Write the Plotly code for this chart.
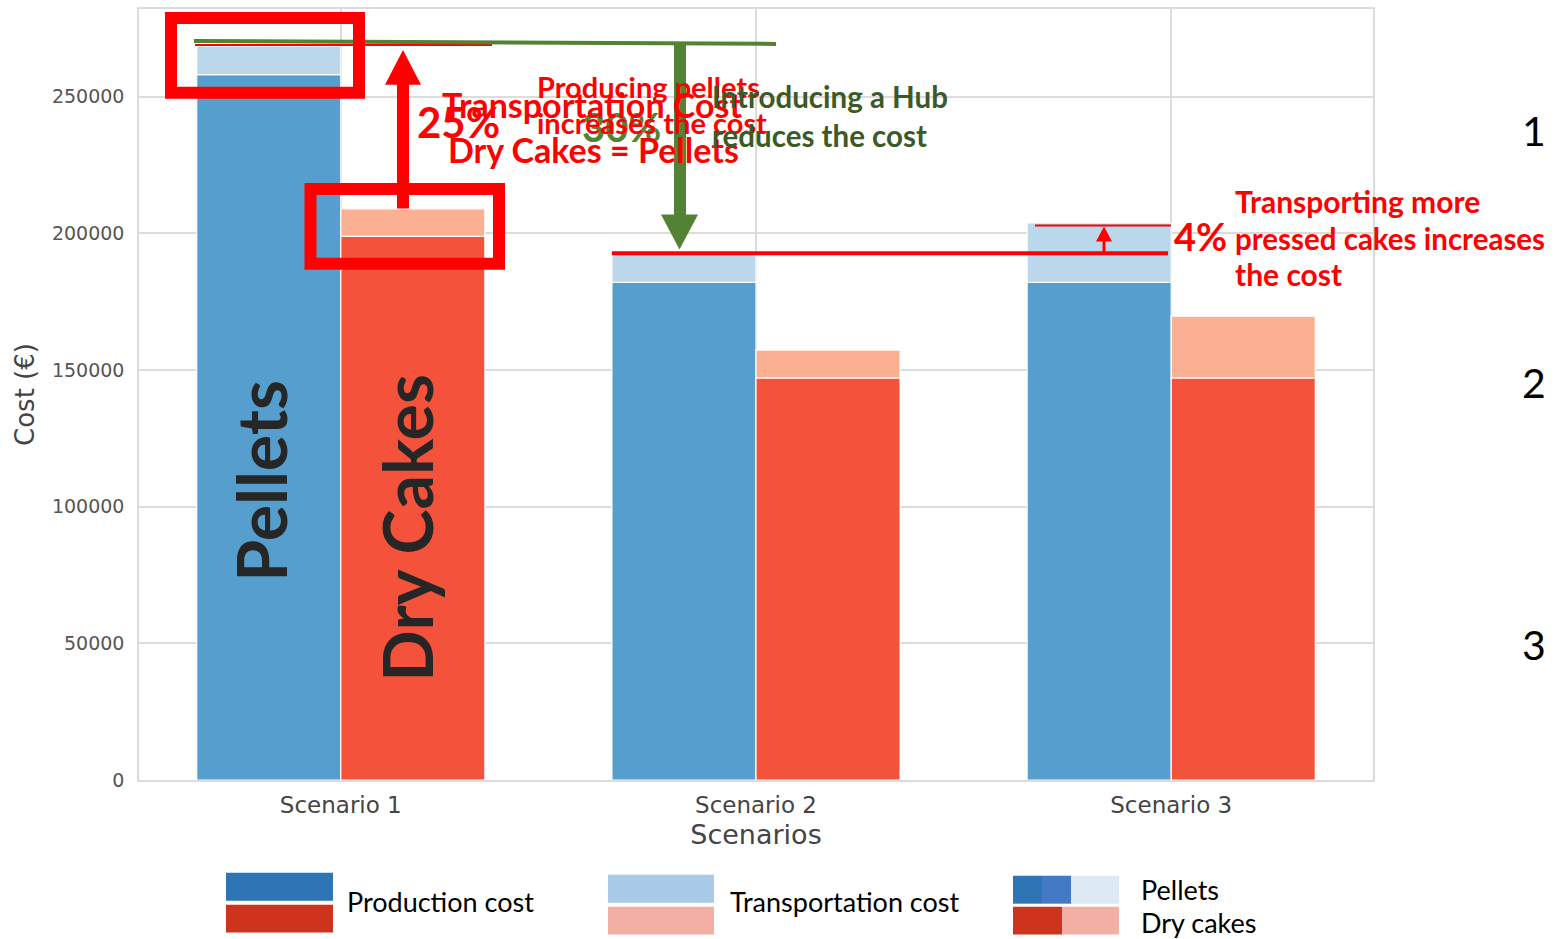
import plotly.graph_objects as go

# Cost breakdown per scenario (€)
scenarios = ["Scenario 1", "Scenario 2", "Scenario 3"]
pellets_production = [258100, 182100, 182100]
pellets_transport = [10400, 10400, 21700]
dry_production = [198900, 147100, 147100]
dry_transport = [10100, 10200, 22600]

# Colours
BLUE = "#559ECD"
BLUE_LIGHT = "#BBD7EB"
RED = "#F5523B"
RED_LIGHT = "#FBB093"
ANN_RED = "#FF0000"
ANN_GREEN = "#548235"
DARK_GREEN = "#3B5A26"

W, H = 1554, 939
L, R, T, B = 139, 181, 7, 159
PW, PH = W - L - R, H - T - B

BAR_W = 0.347


def px(x):
    """Horizontal page pixel -> paper coordinate."""
    return (x - L) / PW


def py(y):
    """Vertical page pixel -> paper coordinate."""
    return (H - B - y) / PH


fig = go.Figure()

bar_line = dict(color="white", width=1.2)
fig.add_bar(x=scenarios, y=pellets_production, width=BAR_W, offset=-BAR_W,
            marker=dict(color=BLUE, line=bar_line), name="Pellets production")
fig.add_bar(x=scenarios, y=pellets_transport, base=pellets_production,
            width=BAR_W, offset=-BAR_W,
            marker=dict(color=BLUE_LIGHT, line=bar_line), name="Pellets transport")
fig.add_bar(x=scenarios, y=dry_production, width=BAR_W, offset=0,
            marker=dict(color=RED, line=bar_line), name="Dry cakes production")
fig.add_bar(x=scenarios, y=dry_transport, base=dry_production,
            width=BAR_W, offset=0,
            marker=dict(color=RED_LIGHT, line=bar_line), name="Dry cakes transport")

shapes = []


def line(x0, y0, x1, y1, color, width):
    shapes.append(dict(type="line", xref="paper", yref="paper",
                       x0=px(x0), y0=py(y0), x1=px(x1), y1=py(y1),
                       line=dict(color=color, width=width)))


def rect(x0, y0, x1, y1, fill=None, color=None, width=0):
    d = dict(type="rect", xref="paper", yref="paper",
             x0=px(x0), y0=py(y0), x1=px(x1), y1=py(y1))
    if fill:
        d["fillcolor"] = fill
        d["line"] = dict(width=0)
    else:
        d["line"] = dict(color=color, width=width)
    shapes.append(d)


def poly(points, fill):
    path = "M " + " L ".join(f"{px(a)},{py(b)}" for a, b in points) + " Z"
    shapes.append(dict(type="path", xref="paper", yref="paper", path=path,
                       fillcolor=fill, line=dict(width=0)))


# Highlight frames and reference lines
line(195, 43, 492, 43, ANN_RED, 2)
line(194, 39, 776, 42, ANN_GREEN, 4)
rect(171, 16, 359, 91, color=ANN_RED, width=12)
rect(310.5, 187.5, 499, 262.5, color=ANN_RED, width=12)

# Red upward arrow (Scenario 1)
rect(397, 82, 409, 207, fill=ANN_RED)
poly([(385, 83), (421, 83), (403, 48)], ANN_RED)

# Green downward arrow (hub)
rect(674, 42, 686, 214, fill=ANN_GREEN)
poly([(661, 213), (698, 213), (679.5, 248)], ANN_GREEN)

# Scenario 2 vs 3 comparison
line(612, 252, 1168, 252, ANN_RED, 4)
line(1035, 224, 1171, 224, ANN_RED, 2)
rect(1102.5, 238, 1105.5, 252, fill=ANN_RED)
poly([(1096, 240), (1112, 240), (1104, 225)], ANN_RED)

# Legend swatches
rect(226, 873, 333, 901, fill="#2E75B6")
rect(226, 905, 333, 933, fill="#CD331D")
rect(608, 875, 714, 903, fill="#A9CAE8")
rect(608, 907, 714, 935, fill="#F4AFA4")
rect(1013, 876, 1042, 904, fill="#2E75B6")
rect(1042, 876, 1072, 904, fill="#4479C6")
rect(1071, 876, 1119, 904, fill="#DDE9F5")
rect(1013, 907, 1062, 935, fill="#CD331D")
rect(1062, 907, 1119, 935, fill="#F4AFA4")

annotations = []


def text(s, x, y, size, color, bold=False, anchor="left", angle=0, font="Lato"):
    annotations.append(dict(
        text=f"<b>{s}</b>" if bold else s, xref="paper", yref="paper",
        x=px(x), y=py(y), xanchor=anchor, yanchor="middle", showarrow=False,
        textangle=angle, font=dict(family=font, size=size, color=color)))


# Bar labels
text("Pellets", 261, 480, 68, "#262626", bold=True, anchor="center", angle=-90)
text("Dry Cakes", 407, 528, 68, "#262626", bold=True, anchor="center", angle=-90)

# Callouts
text("30%", 580, 125, 40, ANN_GREEN, bold=True)
text("Producing pellets", 535, 85, 29, ANN_RED, bold=True)
text("increases the cost", 535, 121, 29, ANN_RED, bold=True)
text("Transportation Cost", 440, 103, 34, ANN_RED, bold=True)
text("Dry Cakes = Pellets", 446, 148, 34, ANN_RED, bold=True)
text("25%", 415, 120, 42, ANN_RED, bold=True)
text("Introducing a Hub", 710, 95, 29.5, DARK_GREEN, bold=True)
text("reduces the cost", 710, 134, 29.5, DARK_GREEN, bold=True)
text("4%", 1172, 235, 38, ANN_RED, bold=True)
text("Transporting more", 1233, 199, 30, ANN_RED, bold=True)
text("pressed cakes increases", 1233, 237, 29.5, ANN_RED, bold=True)
text("the cost", 1233, 273, 30, ANN_RED, bold=True)

# Row numbers
for label, yy in (("1", 129), ("2", 381), ("3", 644)):
    text(label, 1534, yy, 41, "#000000", anchor="center")

# Legend labels
text("Production cost", 345, 902, 27, "#000000")
text("Transportation cost", 728, 902, 27, "#000000")
text("Pellets", 1139, 890, 27, "#000000")
text("Dry cakes", 1139, 923, 27, "#000000")

fig.update_layout(
    width=W, height=H,
    margin=dict(l=L, r=R, t=T, b=B, pad=0),
    paper_bgcolor="white", plot_bgcolor="white",
    barmode="overlay", showlegend=False,
    shapes=shapes, annotations=annotations,
    font=dict(family="DejaVu Sans", color="#555555"),
)
fig.update_xaxes(
    range=[-0.486, 2.486], showgrid=True, gridcolor="#DCDCDC", gridwidth=1.5,
    showline=True, mirror=True, linecolor="#DCDCDC", linewidth=1.5,
    ticks="", tickfont=dict(size=23, color="#444444"), ticklabelstandoff=4,
    title=dict(text="Scenarios", font=dict(size=27, color="#444444"), standoff=8),
)
fig.update_yaxes(
    range=[0, 282100], tickvals=[0, 50000, 100000, 150000, 200000, 250000],
    ticktext=["0", "50000", "100000", "150000", "200000", "250000"],
    showgrid=True, gridcolor="#DCDCDC", gridwidth=1.5, zeroline=False,
    showline=True, mirror=True, linecolor="#DCDCDC", linewidth=1.5,
    ticks="", tickfont=dict(size=19, color="#555555"), ticklabelstandoff=9,
    title=dict(text="Cost (€)", font=dict(size=26, color="#444444"), standoff=10),
)

fig.write_html("out.html")
